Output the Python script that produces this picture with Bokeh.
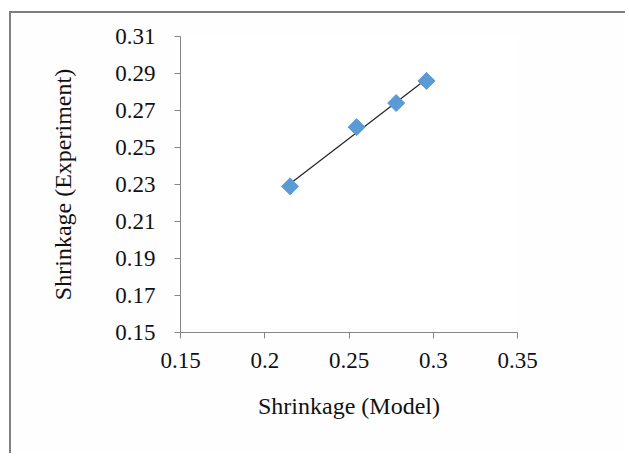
import numpy as np
from bokeh.plotting import figure
from bokeh.models import FixedTicker
from bokeh.embed import file_html
from bokeh.resources import INLINE

# Data
model = [0.215, 0.2545, 0.278, 0.296]
experiment = [0.229, 0.261, 0.274, 0.286]

x_ticks = [0.15, 0.2, 0.25, 0.3, 0.35]
x_tick_labels = ["0.15", "0.2", "0.25", "0.3", "0.35"]
y_ticks = [0.15, 0.17, 0.19, 0.21, 0.23, 0.25, 0.27, 0.29, 0.31]
y_tick_labels = ["0.15", "0.17", "0.19", "0.21", "0.23", "0.25", "0.27", "0.29", "0.31"]

x_title = "Shrinkage (Model)"
y_title = "Shrinkage (Experiment)"

FONT = "Liberation Serif"
GRAY = "#868686"

p = figure(
    width=614, height=440,
    frame_width=337, frame_height=296,
    x_range=(0.15, 0.35), y_range=(0.15, 0.31),
    output_backend="svg", toolbar_location=None,
    min_border_left=169, min_border_right=108,
    min_border_top=23, min_border_bottom=121,
    background_fill_color="#ffffff", border_fill_color="#fefefe",
    outline_line_color=None,
    margin=(11, 0, 0, 9),
    styles={"border-left": "2px solid #7f7f7f", "border-top": "2px solid #7f7f7f"},
)
p.grid.visible = False

for ax, ticks, labels in ((p.xaxis[0], x_ticks, x_tick_labels), (p.yaxis[0], y_ticks, y_tick_labels)):
    ax.ticker = FixedTicker(ticks=ticks)
    ax.major_label_overrides = {t: l for t, l in zip(ticks, labels)}
    ax.minor_tick_line_color = None
    ax.major_tick_in = 0
    ax.major_tick_out = 6
    ax.axis_line_color = GRAY
    ax.major_tick_line_color = GRAY
    ax.major_label_text_font = FONT
    ax.major_label_text_font_size = "23px"
    ax.major_label_text_color = "#111111"
    ax.axis_label_text_font = FONT
    ax.axis_label_text_font_size = "24px"
    ax.axis_label_text_font_style = "normal"
    ax.axis_label_text_color = "#111111"

p.xaxis.axis_label = x_title
p.yaxis.axis_label = y_title
p.xaxis.major_label_standoff = 14
p.xaxis.axis_label_standoff = 22
p.yaxis.major_label_standoff = 19
p.yaxis.axis_label_standoff = 36

# Linear trendline through the data
slope, intercept = np.polyfit(model, experiment, 1)
xs = [min(model), max(model)]
ys = [slope * v + intercept for v in xs]
p.line(xs, ys, line_color="#222222", line_width=1.2)

p.scatter(model, experiment, marker="square", angle=np.pi / 4, size=12,
          fill_color="#5b9bd5", line_color="#5b9bd5")

open("out.html", "w").write(file_html(p, INLINE))
